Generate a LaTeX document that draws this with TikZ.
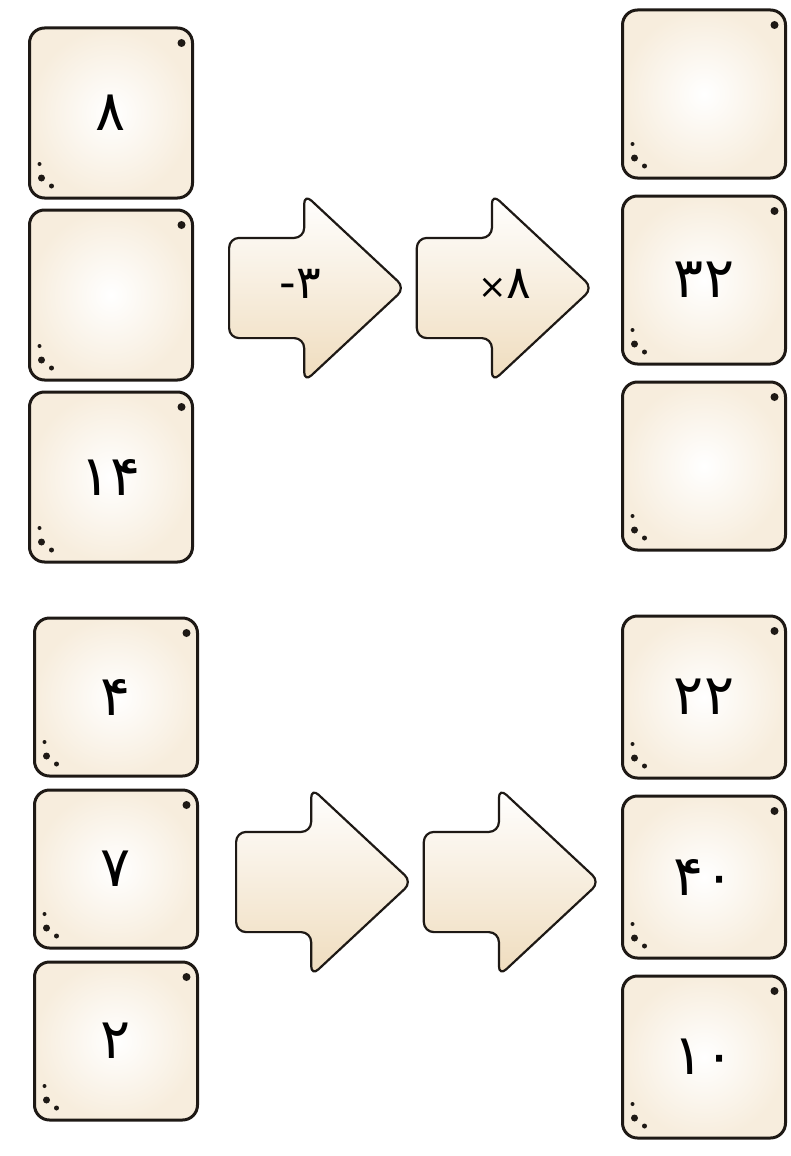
\documentclass[tikz,border=0pt]{standalone}
\usepackage{fontspec}
\newfontfamily\persfont[Script=Arabic]{DejaVu Sans}
\newfontfamily\signfont{DejaVu Sans}
\usetikzlibrary{positioning,shapes.arrows}
\definecolor{TileInk}{HTML}{1E1915}
\definecolor{TileCream}{HTML}{F7EDDD}
\definecolor{ArrowCream}{HTML}{EFDCBD}

\begin{document}
\begin{tikzpicture}[x=1pt,y=-1pt,
    numtile/.style={draw=TileInk,line width=3pt,rounded corners=15pt,
      minimum width=163pt,minimum height=170pt,inner color=white,outer color=TileCream,
      font=\persfont\fontsize{56}{64}\selectfont,
      path picture={
        \fill[TileInk] ([shift={(-11,15)}]path picture bounding box.north east) circle (4pt);
        \fill[TileInk] ([shift={(12,-20)}]path picture bounding box.south west) circle (3.5pt);
        \fill[TileInk] ([shift={(10,-34)}]path picture bounding box.south west) circle (2pt);
        \fill[TileInk] ([shift={(22,-12)}]path picture bounding box.south west) circle (2.5pt);
      }},
    lowtile/.style={numtile,minimum height=158pt},
    oparrow/.style={single arrow,single arrow head extend=44pt,single arrow tip angle=86,
      draw=TileInk,line width=2.2pt,rounded corners=10pt,minimum height=176pt,
      minimum width=185pt,text height=30pt,text depth=10pt,inner xsep=0pt,inner ysep=29pt,
      top color=white,bottom color=ArrowCream,
      font=\persfont\fontsize{46}{52}\selectfont}
  ]
    \useasboundingbox (0,0) rectangle (791,1156);
    % upper puzzle
    \node[numtile] (topinA) at (111,113) {۸};
    \node[numtile,below=9pt of topinA] (topinB) {};
    \node[numtile,below=9pt of topinB] (topinC) {۱۴};
    \node[numtile,minimum height=168pt] (topoutA) at (704,94) {};
    \node[numtile,minimum height=168pt,below=15pt of topoutA] (topoutB) {۳۲};
    \node[numtile,minimum height=168pt,below=15pt of topoutB] (topoutC) {};
    \node[oparrow,anchor=tail] (subtract) at (228,288) {\hspace*{20pt}{\signfont -}۳};
    \node[oparrow,right=9pt of subtract] (multiply)
      {\hspace*{54pt}{\signfont\fontsize{34}{40}\selectfont ×}۸};
    % lower puzzle
    \node[lowtile] (lowinA) at (116,697) {۴};
    \node[lowtile,below=11pt of lowinA] (lowinB) {۷};
    \node[lowtile,below=11pt of lowinB] (lowinC) {۲};
    \node[lowtile,minimum height=162pt] (lowoutA) at (704,697) {۲۲};
    \node[lowtile,minimum height=162pt,below=15pt of lowoutA] (lowoutB) {۴۰};
    \node[lowtile,minimum height=162pt,below=15pt of lowoutB] (lowoutC) {۱۰};
    \node[oparrow,anchor=tail] (firstop) at (235,882) {};
    \node[oparrow,right=9pt of firstop] (secondop) {};
  \end{tikzpicture}
\end{document}
